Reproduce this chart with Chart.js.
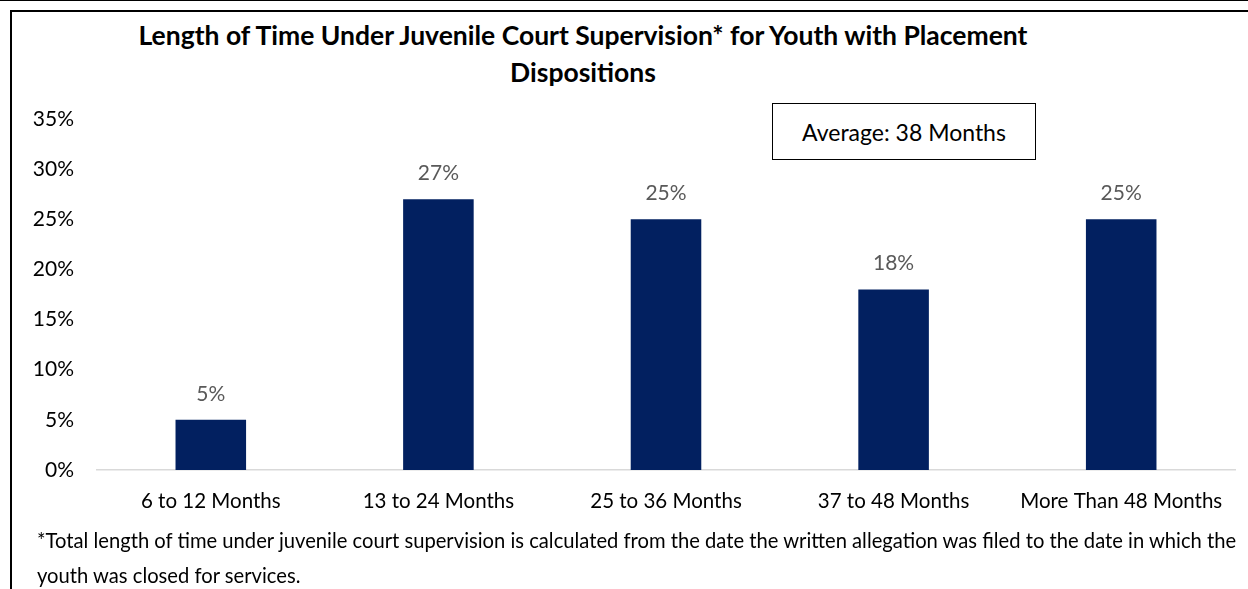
<!DOCTYPE html>
<html>
<head>
<meta charset="utf-8">
<script src="https://cdn.jsdelivr.net/npm/chart.js@4.4.1/dist/chart.umd.min.js"></script>
<style>
  html, body { margin: 0; padding: 0; background: #fff; }
  body { width: 1248px; height: 589px; position: relative; overflow: hidden; font-family: Lato, "Open Sans", sans-serif; }
  .topline { position: absolute; left: 0; top: 0; width: 1248px; border-top: 1px solid #000; }
  .frame { position: absolute; left: 10px; top: 10px; width: 1300px; height: 600px; border-left: 2px solid #000; border-top: 2px solid #000; }
  .title { position: absolute; left: 83px; width: 1000px; top: 17px; text-align: center; font-weight: bold; font-size: 26.5px; line-height: 37px; color: #000; }
  .avg { position: absolute; left: 772px; top: 103px; width: 262px; height: 55px; border: 1.5px solid #000; display: flex; align-items: center; justify-content: center; font-size: 23px; color: #000; background: #fff; }
  .note { position: absolute; left: 37px; top: 523px; font-size: 20.2px; line-height: 35px; color: #000; white-space: nowrap; }
  #wrap { position: absolute; left: 12px; top: 85px; width: 1236px; height: 440px; }
</style>
</head>
<body>
<div class="topline"></div>
<div class="frame"></div>
<div class="title">Length of Time Under Juvenile Court Supervision* for Youth with Placement<br>Dispositions</div>
<div id="wrap"><canvas id="chart"></canvas></div>
<div class="avg">Average: 38 Months</div>
<div class="note">*Total length of time under juvenile court supervision is calculated from the date the written allegation was filed to the date in which the<br>youth was closed for services.</div>
<script>
const CATEGORIES = ["6 to 12 Months", "13 to 24 Months", "25 to 36 Months", "37 to 48 Months", "More Than 48 Months"];
const SHARES = [5, 27, 25, 18, 25];
const Y_TICKS = [0, 5, 10, 15, 20, 25, 30, 35];

const BAR_COLOR = "#022060";
const FONT = "Lato, 'Open Sans', sans-serif";

// etiquetas de valor encima de cada barra
const valueLabels = {
  id: "valueLabels",
  afterDatasetsDraw(chart) {
    const { ctx } = chart;
    const meta = chart.getDatasetMeta(0);
    ctx.save();
    ctx.font = "21px " + FONT;
    ctx.fillStyle = "#595959";
    ctx.textAlign = "center";
    ctx.textBaseline = "middle";
    meta.data.forEach((bar, i) => {
      ctx.fillText(SHARES[i] + "%", bar.x, bar.y - 26);
    });
    ctx.restore();
  },
};

new Chart(document.getElementById("chart"), {
  type: "bar",
  data: {
    labels: CATEGORIES,
    datasets: [{ data: SHARES, backgroundColor: BAR_COLOR, barPercentage: 0.31, categoryPercentage: 1 }],
  },
  options: {
    responsive: true,
    maintainAspectRatio: false,
    animation: false,
    layout: { padding: { top: 34, right: 13, bottom: 0, left: 0 } },
    plugins: { legend: { display: false }, tooltip: { enabled: false } },
    scales: {
      x: {
        grid: { display: false },
        border: { display: true, color: "#d9d9d9", width: 1.5 },
        ticks: { color: "#000", font: { size: 20.5, family: FONT }, padding: 11, maxRotation: 0, autoSkip: false },
        afterFit(scale) { scale.height = 55; scale.paddingLeft = 0; scale.paddingRight = 0; },
      },
      y: {
        min: 0, max: 35,
        afterBuildTicks(scale) { scale.ticks = Y_TICKS.map(v => ({ value: v })); },
        grid: { display: false },
        border: { display: false },
        ticks: { color: "#000", font: { size: 21, family: FONT }, padding: 15, callback: v => v + "%" },
        afterFit(scale) { scale.width = 85; scale.paddingTop = 0; scale.paddingBottom = 0; },
      },
    },
  },
  plugins: [valueLabels],
});
</script>
</body>
</html>
